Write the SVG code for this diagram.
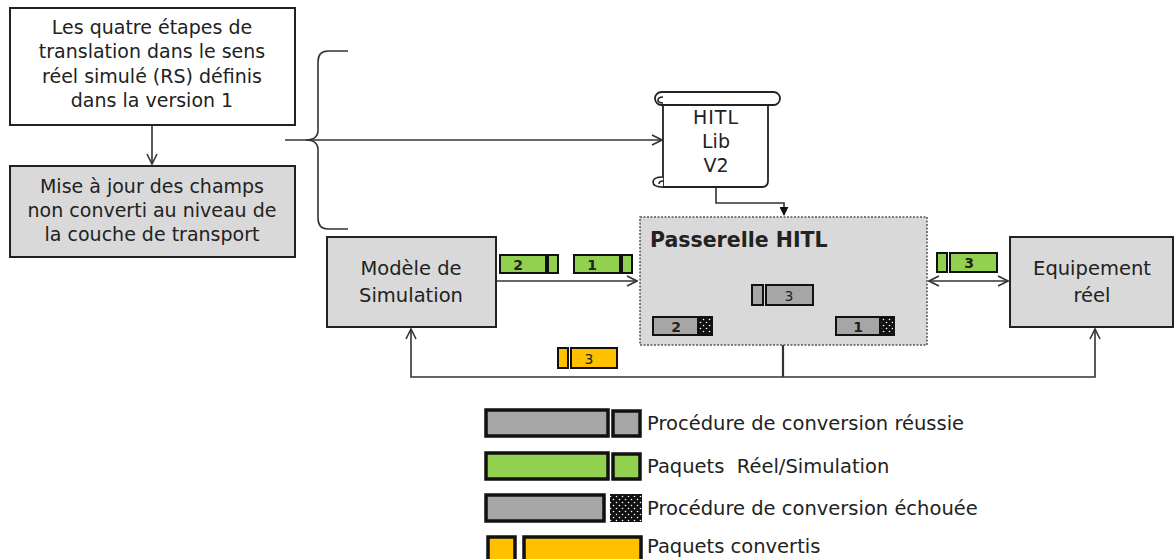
<svg xmlns="http://www.w3.org/2000/svg" width="1174" height="559" viewBox="0 0 1174 559">
<style>
text{font-family:"DejaVu Sans","Open Sans",sans-serif;fill:#222;}
.t{font-size:19px;text-anchor:middle;}
.t2{font-size:19.5px;text-anchor:middle;}
.lg{font-size:19.5px;white-space:pre;}
.box{stroke:#222;stroke-width:2;}
.ln{fill:none;stroke:#333;stroke-width:1.6;}
.pk{stroke:#111;stroke-width:2;}
.lk{stroke:#111;stroke-width:3.5;}
.n{font-size:14px;font-weight:bold;text-anchor:middle;}
</style>
<defs>
<marker id="open" viewBox="0 0 12 12" refX="11" refY="6" markerWidth="12" markerHeight="12" markerUnits="userSpaceOnUse" orient="auto-start-reverse">
<path d="M1,1 L11,6 L1,11" fill="none" stroke="#333" stroke-width="1.6"/>
</marker>
<marker id="fill" viewBox="0 0 10 10" refX="9" refY="5" markerWidth="9" markerHeight="9" markerUnits="userSpaceOnUse" orient="auto">
<path d="M0,0 L10,5 L0,10 Z" fill="#111"/>
</marker>
<pattern id="dots" width="6" height="6" patternUnits="userSpaceOnUse">
<rect width="6" height="6" fill="#111"/>
<circle cx="1.5" cy="1.5" r="0.8" fill="#fff"/>
<circle cx="4.5" cy="4.5" r="0.8" fill="#fff"/>
</pattern>
</defs>

<g id="connectors">
<path class="ln" d="M152,125 L152,164" marker-end="url(#open)"/>
<path class="ln" d="M348,51 L328,51 Q318,51 318,62 L318,130 Q318,140 306,140 Q318,140 318,150 L318,218 Q318,229 328,229 L348,229"/>
<path class="ln" d="M285,140 L662,140" marker-end="url(#open)"/>
<path class="ln" d="M716,187 L716,203 L784,203 L784,215" marker-end="url(#fill)"/>
<path class="ln" d="M491,281 L637,281" marker-end="url(#open)"/>
<path class="ln" d="M929,281 L1008,281" marker-start="url(#open)" marker-end="url(#open)"/>
<path class="ln" d="M783,345 L783,377" style="stroke-width:2.2"/>
<path class="ln" d="M411,329 L411,377 L1095,377 L1095,329" marker-start="url(#open)" marker-end="url(#open)"/>
</g>

<g id="n-etapes">
<rect class="box" x="10" y="8" width="285" height="117" fill="#fff"/>
<text class="t" x="152" y="34">Les quatre étapes de</text>
<text class="t" x="152" y="58">translation dans le sens</text>
<text class="t" x="152" y="83">réel simulé (RS) définis</text>
<text class="t" x="152" y="107">dans la version 1</text>
</g>

<g id="n-miseajour">
<rect class="box" x="10" y="166" width="285" height="91" fill="#d9d9d9"/>
<text class="t" x="152" y="193">Mise à jour des champs</text>
<text class="t" x="152" y="217">non converti au niveau de</text>
<text class="t" x="152" y="241">la couche de transport</text>
</g>

<g id="n-hitllib">
<path d="M663,99 L663,187 L762,187 Q768,187 768,181 L768,105" fill="#fff" stroke="#222" stroke-width="1.8"/>
<rect x="655" y="92" width="125" height="13" rx="6.5" fill="#fff" stroke="#222" stroke-width="1.8"/>
<path d="M663,97 Q658,97 658,100 Q658,103 663,103" fill="none" stroke="#222" stroke-width="1.6"/>
<path d="M663,177 Q653,177 653,182 Q653,187 663,187 M663,181 Q659,181 659,184" fill="#fff" stroke="#222" stroke-width="1.6"/>
<text class="t" x="716" y="124" style="letter-spacing:1px">HITL</text>
<text class="t" x="716" y="148">Lib</text>
<text class="t" x="716" y="172">V2</text>
</g>

<g id="n-passerelle">
<rect x="640" y="217" width="287" height="128" fill="#d9d9d9" stroke="#555" stroke-width="1.5" stroke-dasharray="2,1.5"/>
<text x="650" y="247" style="font-size:20.5px;font-weight:bold">Passerelle HITL</text>
<rect class="pk" x="752" y="285" width="11" height="20" fill="#a6a6a6"/>
<rect class="pk" x="766" y="285" width="47" height="20" fill="#a6a6a6"/>
<text class="n" x="789" y="301" style="font-weight:normal">3</text>
<rect class="pk" x="653" y="317" width="45" height="18" fill="#a6a6a6"/>
<rect class="pk" x="698" y="317" width="14" height="18" fill="url(#dots)"/>
<text class="n" x="676" y="332">2</text>
<rect class="pk" x="836" y="317" width="44" height="18" fill="#a6a6a6"/>
<rect class="pk" x="880" y="317" width="14" height="18" fill="url(#dots)"/>
<text class="n" x="858" y="332">1</text>
</g>

<g id="n-modele">
<rect class="box" x="327" y="237" width="169" height="90" fill="#d9d9d9"/>
<text class="t2" x="411" y="275">Modèle de</text>
<text class="t2" x="411" y="302">Simulation</text>
</g>

<g id="n-equipement">
<rect class="box" x="1010" y="237" width="163" height="90" fill="#d9d9d9"/>
<text class="t2" x="1092" y="275">Equipement</text>
<text class="t2" x="1092" y="302">réel</text>
</g>

<g id="packets">
<rect class="pk" x="500" y="255" width="46" height="18" fill="#92d050"/>
<rect class="pk" x="548" y="255" width="10" height="18" fill="#92d050"/>
<text class="n" x="518" y="270">2</text>
<rect class="pk" x="574" y="255" width="46" height="18" fill="#92d050"/>
<rect class="pk" x="622" y="255" width="10" height="18" fill="#92d050"/>
<text class="n" x="592" y="270">1</text>
<rect class="pk" x="937" y="253" width="10" height="19" fill="#92d050"/>
<rect class="pk" x="950" y="253" width="47" height="19" fill="#92d050"/>
<text class="n" x="969" y="268">3</text>
<rect class="pk" x="558" y="348" width="10" height="20" fill="#ffc000"/>
<rect class="pk" x="571" y="348" width="46" height="20" fill="#ffc000"/>
<text class="n" x="589" y="364" style="font-weight:normal">3</text>
</g>

<g id="legend">
<rect class="lk" x="486" y="410" width="122" height="26" fill="#a6a6a6"/>
<rect class="lk" x="613" y="411" width="27" height="25" fill="#a6a6a6"/>
<text class="lg" x="647" y="430">Procédure de conversion réussie</text>
<rect class="lk" x="486" y="453" width="122" height="26" fill="#92d050"/>
<rect class="lk" x="613" y="454" width="27" height="25" fill="#92d050"/>
<text class="lg" x="647" y="473">Paquets  Réel/Simulation</text>
<rect class="lk" x="486" y="495" width="118" height="26" fill="#a6a6a6"/>
<rect x="610" y="494" width="32" height="28" fill="url(#dots)"/>
<text class="lg" x="647" y="515">Procédure de conversion échouée</text>
<rect class="lk" x="488" y="537" width="27" height="26" fill="#ffc000"/>
<rect class="lk" x="524" y="537" width="117" height="26" fill="#ffc000"/>
<text class="lg" x="647" y="553">Paquets convertis</text>
</g>
</svg>
